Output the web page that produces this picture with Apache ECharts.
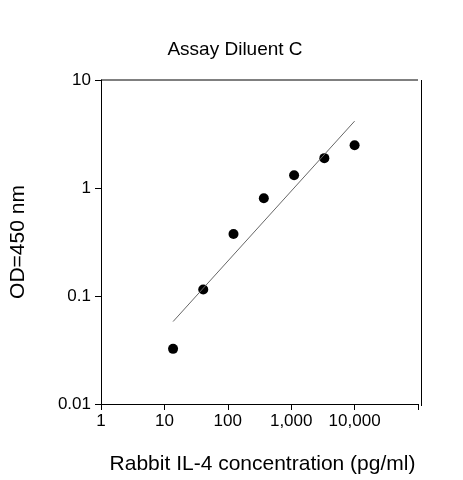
<!DOCTYPE html>
<html><head><meta charset="utf-8">
<script src="https://cdn.jsdelivr.net/npm/echarts@6/dist/echarts.min.js"></script>
<style>html,body{margin:0;background:#fff}#c{width:463px;height:480px}</style>
</head><body><div id="c"></div>
<script>
const conc = [13.7, 41, 123, 370, 1111, 3333, 10000];
const od = [0.0324, 0.115, 0.375, 0.804, 1.31, 1.89, 2.49];
const fitX = [13.7, 10000];
const fitY = [0.058, 4.16];
const xTicks = {1:'1',10:'10',100:'100',1000:'1,000',10000:'10,000',100000:''};
const yTicks = {0.01:'0.01',0.1:'0.1',1:'1',10:'10'};
const font = 'Arial, Liberation Sans, sans-serif';
const chart = echarts.init(document.getElementById('c'));
chart.setOption({
  animation:false,
  title:{text:'Assay Diluent C',left:230,top:35,textAlign:'center',textStyle:{fontFamily:font,fontSize:19,fontWeight:'normal',color:'#000'}},
  grid:{left:101,right:45,top:80,bottom:74},
  xAxis:{type:'log',min:1,max:100000,logBase:10,
    name:'Rabbit IL-4 concentration (pg/ml)',nameLocation:'middle',nameGap:50,
    nameTextStyle:{fontFamily:font,fontSize:21,color:'#000',padding:[0,0,0,6]},
    axisLine:{lineStyle:{color:'#000'}},axisTick:{length:6,lineStyle:{color:'#000'}},
    axisLabel:{fontFamily:font,fontSize:17,color:'#000',margin:9,formatter:v=>xTicks[Math.round(v)] ?? ''},
    splitLine:{show:false},minorTick:{show:false}},
  yAxis:{type:'log',min:0.01,max:10,logBase:10,
    name:'OD=450 nm',nameLocation:'middle',nameGap:72,
    nameTextStyle:{fontFamily:font,fontSize:21,color:'#000'},
    axisLine:{lineStyle:{color:'#000'}},axisTick:{length:6,lineStyle:{color:'#000'}},
    axisLabel:{fontFamily:font,fontSize:17,color:'#000',margin:10,formatter:v=>{for(const k in yTicks){if(Math.abs(Math.log10(v)-Math.log10(+k))<0.01)return yTicks[k];}return '';}},
    splitLine:{show:false}},
  series:[
    {type:'line',data:fitX.map((x,i)=>[x,fitY[i]]),symbol:'none',lineStyle:{color:'#666',width:1}},
    {type:'scatter',data:conc.map((x,i)=>[x,od[i]]),symbolSize:10,itemStyle:{color:'#000',opacity:1}}
  ],
  graphic:[
    {type:'line',shape:{x1:101,y1:80,x2:418,y2:80},style:{stroke:'#000',lineWidth:1}},
    {type:'line',shape:{x1:421.5,y1:80,x2:421.5,y2:406},style:{stroke:'#000',lineWidth:1}}
  ]
});
</script></body></html>
